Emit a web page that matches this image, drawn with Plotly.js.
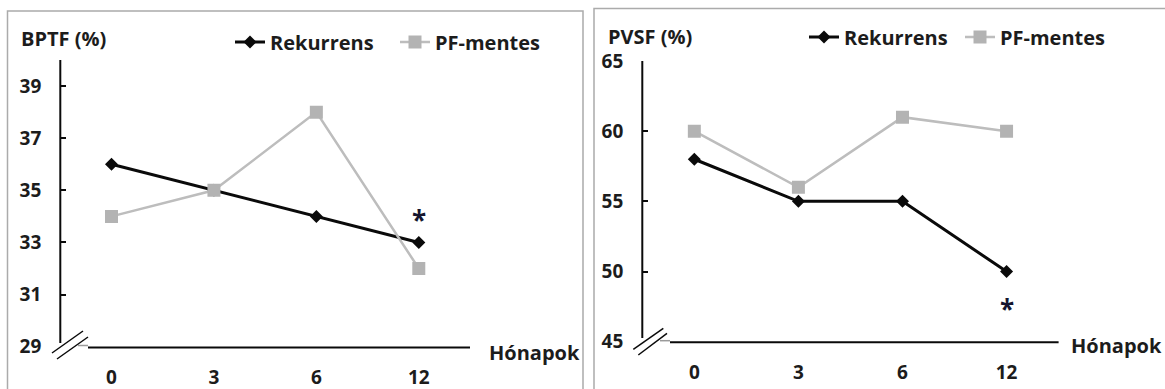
<!DOCTYPE html>
<html>
<head>
<meta charset="utf-8">
<script src="https://cdn.plot.ly/plotly-3.0.1.min.js"></script>
<style>
html,body{margin:0;padding:0;background:#fff;}
#chart{width:1165px;height:389px;}
</style>
</head>
<body>
<div id="chart"></div>
<script>
// ---- data ----
var months = ["0", "3", "6", "12"];
var bptfRekurrens = [36, 35, 34, 33];
var bptfPFmentes = [34, 35, 38, 32];
var pvsfRekurrens = [58, 55, 55, 50];
var pvsfPFmentes = [60, 56, 61, 60];
var seriesNames = ["Rekurrens", "PF-mentes"];
var panelTitles = ["BPTF (%)", "PVSF (%)"];
var xAxisTitle = "Hónapok";
var starLeft = {month: "12", y: 34.1};
var starRight = {month: "12", y: 47.75};

var W = 1165, H = 389;
function px(x) { return x / W; }
function py(y) { return 1 - y / H; }

var FONT = "Open Sans, DejaVu Sans, sans-serif";
var TXT = "#1c1c1c";
var BLACK = "#0a0a0a";
var GRAY = "#bdbdbd";
var GRAYM = "#b3b3b3";

function rek(y, xa, ya, lg) {
  return {x: months, y: y, xaxis: xa, yaxis: ya, name: seriesNames[0], legend: lg,
    mode: "lines+markers", line: {color: BLACK, width: 3},
    marker: {symbol: "diamond", size: 10, color: BLACK}};
}
function pf(y, xa, ya, lg) {
  return {x: months, y: y, xaxis: xa, yaxis: ya, name: seriesNames[1], legend: lg,
    mode: "lines+markers", line: {color: GRAY, width: 2.5},
    marker: {symbol: "square", size: 13, color: GRAYM}};
}

var data = [
  rek(bptfRekurrens, "x", "y", "legend"),
  pf(bptfPFmentes, "x", "y", "legend"),
  rek(pvsfRekurrens, "x2", "y2", "legend2"),
  pf(pvsfPFmentes, "x2", "y2", "legend2")
];

var xCommon = {type: "category", range: [-0.5, 3.5], showline: false, showgrid: false,
  zeroline: false, ticks: "", tickfont: {family: FONT, size: 19, color: TXT, weight: "bold"},
  ticklabelstandoff: 17, fixedrange: true};
var yCommon = {showline: false, showgrid: false, zeroline: false, ticks: "inside",
  ticklen: 6, tickwidth: 2, tickcolor: BLACK,
  tickfont: {family: FONT, size: 19, color: TXT, weight: "bold"},
  ticklabelstandoff: 18, fixedrange: true};

var xd1 = [px(60.3), px(470)], yd1 = [py(346.7), py(60)];
var xd2 = [px(642.3), px(1058.6)], yd2 = [py(341.7), py(61)];

var legFont = {family: FONT, size: 20, color: TXT, weight: "bold"};
var titleFont = {family: FONT, size: 20, color: TXT, weight: "bold"};
var starFont = {family: FONT, size: 26, color: "#15152e", weight: "bold"};

var layout = {
  width: W, height: H,
  margin: {l: 0, r: 0, t: 0, b: 0, pad: 0},
  paper_bgcolor: "#fff", plot_bgcolor: "rgba(0,0,0,0)",
  showlegend: true,
  xaxis: Object.assign({}, xCommon, {domain: xd1, anchor: "y"}),
  yaxis: Object.assign({}, yCommon, {domain: yd1, anchor: "x", range: [29, 40], tick0: 29, dtick: 2}),
  xaxis2: Object.assign({}, xCommon, {domain: xd2, anchor: "y2"}),
  yaxis2: Object.assign({}, yCommon, {domain: yd2, anchor: "x2", range: [45, 65], tick0: 45, dtick: 5}),
  legend: {orientation: "h", x: px(230), xanchor: "left", y: py(42), yanchor: "middle",
    entrywidth: 120, entrywidthmode: "pixels",
    font: legFont, bgcolor: "rgba(0,0,0,0)"},
  legend2: {orientation: "h", x: px(804), xanchor: "left", y: py(37), yanchor: "middle",
    entrywidth: 111, entrywidthmode: "pixels",
    font: legFont, bgcolor: "rgba(0,0,0,0)"},
  annotations: [
    {xref: "paper", yref: "paper", x: px(19), y: py(38.5), xanchor: "left", yanchor: "middle",
      text: panelTitles[0], showarrow: false, font: titleFont},
    {xref: "paper", yref: "paper", x: px(606), y: py(36), xanchor: "left", yanchor: "middle",
      text: panelTitles[1], showarrow: false, font: titleFont},
    {xref: "paper", yref: "paper", x: px(487), y: py(352), xanchor: "left", yanchor: "middle",
      text: xAxisTitle, showarrow: false, font: titleFont},
    {xref: "paper", yref: "paper", x: px(1069), y: py(345.5), xanchor: "left", yanchor: "middle",
      text: xAxisTitle, showarrow: false, font: titleFont},
    {xref: "x", yref: "y", x: months.indexOf(starLeft.month), y: starLeft.y, xanchor: "center", yanchor: "middle", yshift: -6,
      text: "*", showarrow: false, font: starFont},
    {xref: "x2", yref: "y2", x: months.indexOf(starRight.month), y: starRight.y, xanchor: "center", yanchor: "middle", yshift: -6,
      text: "*", showarrow: false, font: starFont}
  ],
  shapes: [
    // panel frames
    {type: "rect", xref: "paper", yref: "paper", x0: px(7.5), x1: px(583), y0: py(400), y1: py(11),
      line: {color: "#ababab", width: 1.5}, layer: "below"},
    {type: "rect", xref: "paper", yref: "paper", x0: px(594), x1: px(1180), y0: py(400), y1: py(8.5),
      line: {color: "#ababab", width: 1.5}, layer: "below"},
    // left axes
    {type: "line", xref: "paper", yref: "paper", x0: px(60.3), x1: px(60.3), y0: py(343), y1: py(60),
      line: {color: BLACK, width: 2}},
    {type: "line", xref: "paper", yref: "paper", x0: px(88), x1: px(470), y0: py(347.5), y1: py(347.5),
      line: {color: BLACK, width: 2}},
    {type: "line", xref: "paper", yref: "paper", x0: px(78), x1: px(88), y0: py(345.5), y1: py(345.5),
      line: {color: "#9a9a9a", width: 1.5}},
    {type: "line", xref: "paper", yref: "paper", x0: px(52), x1: px(83), y0: py(353), y1: py(331),
      line: {color: BLACK, width: 1.5}},
    {type: "line", xref: "paper", yref: "paper", x0: px(57), x1: px(88), y0: py(359), y1: py(337),
      line: {color: BLACK, width: 1.5}},
    // right axes
    {type: "line", xref: "paper", yref: "paper", x0: px(642.3), x1: px(642.3), y0: py(338), y1: py(61),
      line: {color: BLACK, width: 2}},
    {type: "line", xref: "paper", yref: "paper", x0: px(670), x1: px(1058.6), y0: py(342.3), y1: py(342.3),
      line: {color: BLACK, width: 2}},
    {type: "line", xref: "paper", yref: "paper", x0: px(660), x1: px(670), y0: py(340.7), y1: py(340.7),
      line: {color: "#9a9a9a", width: 1.5}},
    {type: "line", xref: "paper", yref: "paper", x0: px(633.3), x1: px(663.3), y0: py(349.3), y1: py(328.3),
      line: {color: BLACK, width: 1.5}},
    {type: "line", xref: "paper", yref: "paper", x0: px(638.3), x1: px(667), y0: py(355), y1: py(333.3),
      line: {color: BLACK, width: 1.5}}
  ]
};

Plotly.newPlot("chart", data, layout, {staticPlot: true, displayModeBar: false});
</script>
</body>
</html>
